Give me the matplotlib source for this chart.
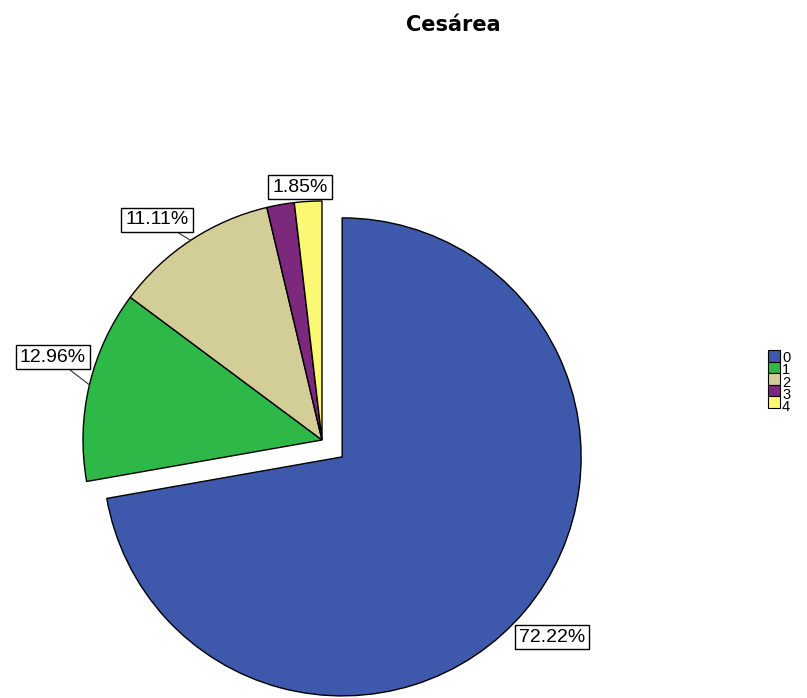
import numpy as np
import matplotlib.pyplot as plt
from matplotlib.patches import Rectangle

categorias = ['0', '1', '2', '3', '4']
frecuencias = [39, 7, 6, 1, 1]
colores = ['#3E58AC', '#2EB848', '#D3CE97', '#7C287D', '#FBF873']
separacion = [0.11, 0, 0, 0, 0]

# se trabaja en pixeles: tamaño de la figura, centro del pastel y radio
W, H = 807, 698
CX, CY, R = 322, 440, 239


def px(x, y):
    return (x - CX) / R, (CY - y) / R


fig = plt.figure(figsize=(W / 100, H / 100), dpi=100)
ax = fig.add_axes([0, 0, 1, 1])
wedges, _ = ax.pie(frecuencias, colors=colores, explode=separacion,
                   startangle=90, counterclock=False, radius=1,
                   wedgeprops=dict(edgecolor='black', linewidth=1.0))
ax.set_aspect('auto')
ax.set_xlim(-CX / R, (W - CX) / R)
ax.set_ylim(-(H - CY) / R, CY / R)
ax.axis('off')

total = sum(frecuencias)
porcentajes = [f / total * 100 for f in frecuencias]

# posiciones de las etiquetas (px); la del segmento 3 se solapa y no se dibuja
etiquetas = {0: (552, 637), 1: (53, 357), 2: (157, 220), 4: (300, 187)}
for i, (x, y) in etiquetas.items():
    w = wedges[i]
    ang = np.deg2rad((w.theta1 + w.theta2) / 2)
    bx = w.center[0] + w.r * np.cos(ang)
    by = w.center[1] + w.r * np.sin(ang)
    tx, ty = px(x, y)
    if i in (1, 2):
        ax.plot([tx, bx], [ty, by], color='#333333', lw=0.8, zorder=3)
    ax.text(tx, ty, f'{porcentajes[i]:.2f}%', ha='center', va='center',
            fontsize=14, family='Liberation Sans', zorder=4,
            bbox=dict(boxstyle='square,pad=0.2', fc='white', ec='black', lw=1))

# leyenda: cuadros apilados y un solo bloque de texto con las categorias
paso = 11.5
tam_leyenda = 10.5
for i, col in enumerate(colores):
    x0, y0 = px(768, 350 + (i + 1) * paso)
    ax.add_patch(Rectangle((x0, y0), 12 / R, paso / R, fc=col, ec='black', lw=0.8))
interlinea = paso / (0.935 * tam_leyenda * 100 / 72)
ax.text(*px(782, 351), '\n'.join(categorias), ha='left', va='top',
        fontsize=tam_leyenda, family='Liberation Sans', linespacing=interlinea)

fig.text(453 / W, 1 - 25 / H, 'Cesárea', ha='center', va='center',
         fontsize=15, fontweight='bold')

fig.savefig('out.png', dpi=100)
